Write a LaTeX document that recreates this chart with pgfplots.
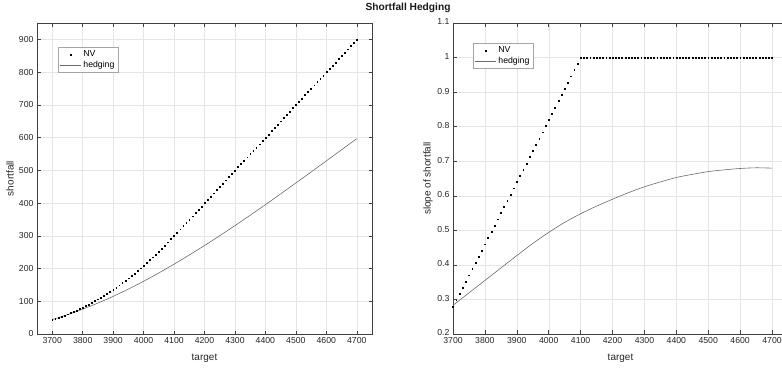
\documentclass[border=0pt]{standalone}
\usepackage{pgfplots}
\pgfplotsset{compat=1.18}
\usepackage{fontspec}
\setmainfont{Liberation Sans}
\definecolor{axgray}{gray}{0.25}
\definecolor{hedgecol}{gray}{0.42}
\pgfplotsset{
  mystyle/.style={
    scale only axis, width=335pt, height=311pt, anchor=south west,
    grid=major, major grid style={gray!20, line width=0.4pt},
    axis line style={axgray, line width=0.5pt},
    tick style={axgray, line width=0.5pt},
    tick align=inside, major tick length=3.5pt,
    ticklabel style={font=\fontsize{8.7}{10}\selectfont, text=black!85},
    label style={font=\fontsize{10}{12}\selectfont, text=black!85},
    /pgf/number format/assume math mode=true,
    xticklabel style={/pgf/number format/1000 sep={}},
    xtick={3700,3800,...,4700},
    legend style={font=\fontsize{8.7}{10}\selectfont, draw=gray!70, line width=0.5pt, fill=white, inner sep=1.5pt, row sep=-1pt},
    legend cell align=left,
    xlabel style={at={(axis description cs:0.5,-0.077)}, anchor=center},
  },
  nvstyle/.style={only marks, mark=square*, mark size=0.42pt, black,
    legend image code/.code={\draw[##1] plot coordinates {(10.5pt,0pt)};}},
  hstyle/.style={no marks, hedgecol, line width=0.6pt, smooth,
    legend image code/.code={\draw[##1,sharp plot] (0pt,0pt) -- (21pt,0pt);}},
}
\begin{document}
\begin{tikzpicture}
\begin{axis}[mystyle, at={(37pt,33pt)},
  xmin=3650, xmax=4750, ymin=0, ymax=950,
  ytick={0,100,...,900},
  xlabel={target}, ylabel={shortfall},
  ylabel style={at={(axis description cs:-0.0806,0.5)}, anchor=center},
  legend style={at={(0.063,0.923)}, anchor=north west}]
\addplot[nvstyle] coordinates {
(3700,44) (3710,46.89) (3720,49.96) (3730,53.21) (3740,56.64) (3750,60.25) (3760,64.04) (3770,68.01) (3780,72.16) (3790,76.49)
(3800,81) (3810,85.69) (3820,90.56) (3830,95.61) (3840,100.84) (3850,106.25) (3860,111.84) (3870,117.61) (3880,123.56) (3890,129.69)
(3900,136) (3910,142.49) (3920,149.16) (3930,156.01) (3940,163.04) (3950,170.25) (3960,177.64) (3970,185.21) (3980,192.96) (3990,200.89)
(4000,209) (4010,217.29) (4020,225.76) (4030,234.41) (4040,243.24) (4050,252.25) (4060,261.44) (4070,270.81) (4080,280.36) (4090,290.09)
(4100,300) (4110,310) (4120,320) (4130,330) (4140,340) (4150,350) (4160,360) (4170,370) (4180,380) (4190,390)
(4200,400) (4210,410) (4220,420) (4230,430) (4240,440) (4250,450) (4260,460) (4270,470) (4280,480) (4290,490)
(4300,500) (4310,510) (4320,520) (4330,530) (4340,540) (4350,550) (4360,560) (4370,570) (4380,580) (4390,590)
(4400,600) (4410,610) (4420,620) (4430,630) (4440,640) (4450,650) (4460,660) (4470,670) (4480,680) (4490,690)
(4500,700) (4510,710) (4520,720) (4530,730) (4540,740) (4550,750) (4560,760) (4570,770) (4580,780) (4590,790)
(4600,800) (4610,810) (4620,820) (4630,830) (4640,840) (4650,850) (4660,860) (4670,870) (4680,880) (4690,890)
(4700,900)
};
\addlegendentry{NV}
\addplot[hstyle] coordinates {
(3700,44) (3750,59.05) (3800,75.9) (3850,94.55) (3900,115.0) (3950,137.2) (4000,161.1) (4050,186.55) (4100,213.3)
(4150,241.3) (4200,270.3) (4250,300.3) (4300,331.1) (4350,362.8) (4400,395.1) (4450,428.0) (4500,461.3)
(4550,494.9) (4600,528.8) (4650,562.8) (4700,596.8)
};
\addlegendentry{hedging}
\end{axis}
\begin{axis}[mystyle, at={(453pt,33pt)},
  xmin=3700, xmax=4750, ymin=0.2, ymax=1.1,
  ytick={0.2,0.3,...,1.1},
  xlabel={target}, ylabel={slope of shortfall},
  ylabel style={at={(axis description cs:-0.0746,0.5)}, anchor=center},
  yticklabel style={yshift=1pt},
  legend style={at={(0.06,0.936)}, anchor=north west}]
\addplot[nvstyle] coordinates {
(3700,0.28) (3710,0.298) (3720,0.316) (3730,0.334) (3740,0.352) (3750,0.37) (3760,0.388) (3770,0.406) (3780,0.424) (3790,0.442)
(3800,0.46) (3810,0.478) (3820,0.496) (3830,0.514) (3840,0.532) (3850,0.55) (3860,0.568) (3870,0.586) (3880,0.604) (3890,0.622)
(3900,0.64) (3910,0.658) (3920,0.676) (3930,0.694) (3940,0.712) (3950,0.73) (3960,0.748) (3970,0.766) (3980,0.784) (3990,0.802)
(4000,0.82) (4010,0.838) (4020,0.856) (4030,0.874) (4040,0.892) (4050,0.91) (4060,0.928) (4070,0.946) (4080,0.964) (4090,0.982)
(4100,1) (4110,1) (4120,1) (4130,1) (4140,1) (4150,1) (4160,1) (4170,1) (4180,1) (4190,1)
(4200,1) (4210,1) (4220,1) (4230,1) (4240,1) (4250,1) (4260,1) (4270,1) (4280,1) (4290,1)
(4300,1) (4310,1) (4320,1) (4330,1) (4340,1) (4350,1) (4360,1) (4370,1) (4380,1) (4390,1)
(4400,1) (4410,1) (4420,1) (4430,1) (4440,1) (4450,1) (4460,1) (4470,1) (4480,1) (4490,1)
(4500,1) (4510,1) (4520,1) (4530,1) (4540,1) (4550,1) (4560,1) (4570,1) (4580,1) (4590,1)
(4600,1) (4610,1) (4620,1) (4630,1) (4640,1) (4650,1) (4660,1) (4670,1) (4680,1) (4690,1)
(4700,1)
};
\addlegendentry{NV}
\addplot[hstyle] coordinates {
(3700,0.283) (3750,0.319) (3800,0.355) (3850,0.391) (3900,0.427) (3950,0.462) (4000,0.494) (4050,0.523) (4100,0.548)
(4150,0.570) (4200,0.590) (4250,0.609) (4300,0.626) (4350,0.640) (4400,0.653) (4450,0.662) (4500,0.670)
(4550,0.675) (4600,0.679) (4650,0.681) (4700,0.680)
};
\addlegendentry{hedging}
\end{axis}
\node[font=\bfseries\fontsize{10.2}{12}\selectfont, text=black!90] at (408pt,359pt) {Shortfall Hedging};
\pgfresetboundingbox
\path[use as bounding box] (0pt,0pt) rectangle (782pt,367pt);
\end{tikzpicture}
\end{document}
